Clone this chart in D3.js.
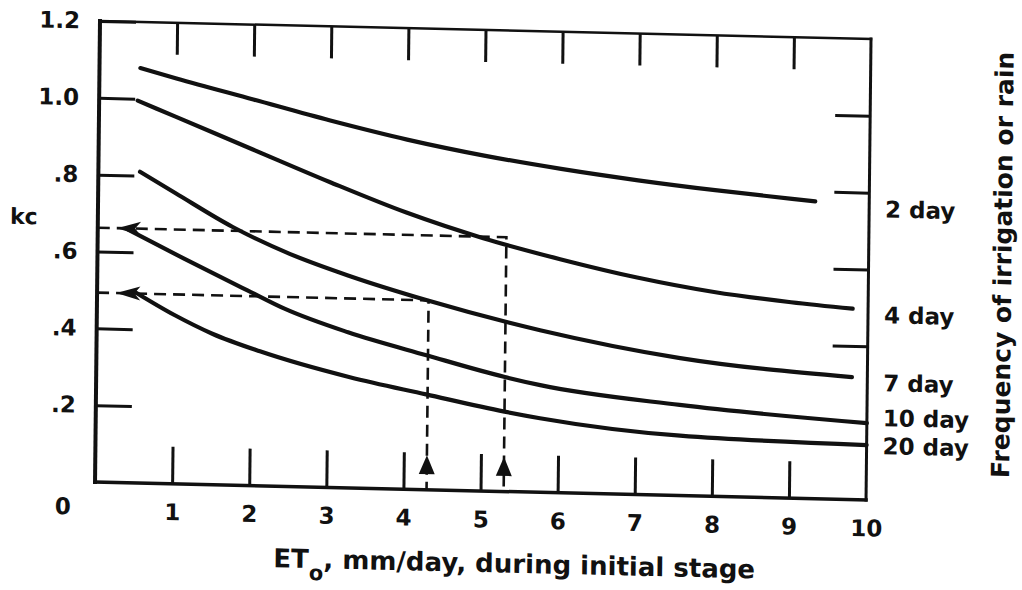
<!DOCTYPE html>
<html>
<head>
<meta charset="utf-8">
<script src="https://cdn.jsdelivr.net/npm/d3@7"></script>
<style>
  body { margin: 0; background: #fff; }
  text { font-family: "DejaVu Sans", sans-serif; font-weight: bold; fill: #111; }
  .tick text { font-size: 23px; }
</style>
</head>
<body>
<div id="chart"></div>
<script>
// values (ETo in mm/day, kc)
const etoTicks = [1, 2, 3, 4, 5, 6, 7, 8, 9];
const etoLabels = [1, 2, 3, 4, 5, 6, 7, 8, 9, 10];
const kcLeftTicks = [0.2, 0.4, 0.6, 0.8, 1.0, 1.2];
const kcLeftLabels = [".2", ".4", ".6", ".8", "1.0", "1.2"];
const kcRightTicks = [0.4, 0.6, 0.8, 1.0];

const seriesNames = ["2 day", "4 day", "7 day", "10 day", "20 day"];
const day2 = [[0.53, 1.08], [1, 1.055], [2, 1.005], [3, 0.955], [4, 0.91], [5, 0.873], [6, 0.843], [7, 0.818], [8, 0.797], [9, 0.779], [9.3, 0.774]];
const day4 = [[0.5, 0.995], [1, 0.955], [2, 0.875], [3, 0.795], [4, 0.72], [5, 0.658], [6, 0.608], [7, 0.565], [8, 0.532], [9, 0.51], [9.8, 0.497]];
const day7 = [[0.54, 0.81], [1, 0.757], [1.75, 0.672], [2.5, 0.605], [3.28, 0.551], [4.28, 0.493], [5.75, 0.422], [7.57, 0.358], [9.8, 0.319]];
const day10 = [[0.4, 0.658], [1.13, 0.586], [1.95, 0.508], [2.44, 0.462], [3.26, 0.405], [4.28, 0.35], [5.3, 0.298], [5.76, 0.279], [7.57, 0.236], [10, 0.2]];
const day20 = [[0.49, 0.497], [1, 0.44], [1.5, 0.393], [2.12, 0.35], [3.29, 0.288], [4.28, 0.248], [5.3, 0.208], [5.76, 0.193], [7.58, 0.156], [10, 0.143]];
const seriesData = [day2, day4, day7, day10, day20];

// worked example: ETo read up to a curve, then across to kc
const guideEto = [4.3, 5.3];
const guideKc = [0.493, 0.662];

// where the right-hand labels sit, in kc units
const labelKc = [0.757, 0.482, 0.305, 0.214, 0.141];

const width = 1022, height = 590;
const plotW = 771, plotH = 461;

const svg = d3.select("#chart")
  .append("svg")
    .attr("width", width)
    .attr("height", height)
    .style("background", "#fff");

// the scan is slightly rotated, so the whole figure sits in a skewed frame
const g = svg.append("g")
  .attr("transform", "matrix(1, 0.0233, -0.0108, 1, 100, 21)");

const x = d3.scaleLinear().domain([0, 10]).range([0, plotW]);
const y = d3.scaleLinear().domain([0, 1.2]).range([plotH, 0]);

// inner ticks
g.append("g")
  .attr("transform", `translate(0,${plotH})`)
  .call(d3.axisBottom(x).tickValues(etoLabels).tickSize(-37).tickPadding(20).tickFormat(d3.format("d")))
  .call(a => a.select(".domain").remove())
  .call(a => a.selectAll("line").attr("stroke", "#111").attr("stroke-width", 3)
    .filter(d => d === 10).remove());

g.append("g")
  .call(d3.axisTop(x).tickValues(etoTicks).tickSize(-32).tickFormat(""))
  .call(a => a.select(".domain").remove())
  .call(a => a.selectAll("line").attr("stroke", "#111").attr("stroke-width", 3));

g.append("g")
  .call(d3.axisLeft(y).tickValues(kcLeftTicks).tickSize(-36).tickPadding(20)
    .tickFormat((d, i) => kcLeftLabels[i]))
  .call(a => a.select(".domain").remove())
  .call(a => a.selectAll("line").attr("stroke", "#111").attr("stroke-width", 3));

g.append("g")
  .attr("transform", `translate(${plotW},0)`)
  .call(d3.axisRight(y).tickValues(kcRightTicks).tickSize(-35).tickFormat(""))
  .call(a => a.select(".domain").remove())
  .call(a => a.selectAll("line").attr("stroke", "#111").attr("stroke-width", 3));

// origin label
g.append("text")
  .attr("x", -32)
  .attr("y", plotH + 25)
  .attr("dy", "0.35em")
  .attr("text-anchor", "middle")
  .style("font-size", "23px")
  .text("0");

// frame
const frame = [
  {x1: 0, y1: 0, x2: 0, y2: plotH, w: 4},
  {x1: 0, y1: plotH, x2: plotW, y2: plotH, w: 3.5},
  {x1: plotW, y1: 0, x2: plotW, y2: plotH, w: 3},
  {x1: 0, y1: 0, x2: plotW, y2: 0, w: 2.5}
];
g.selectAll(".frame")
  .data(frame)
  .join("line")
    .attr("class", "frame")
    .attr("x1", d => d.x1).attr("y1", d => d.y1)
    .attr("x2", d => d.x2).attr("y2", d => d.y2)
    .attr("stroke", "#111")
    .attr("stroke-width", d => d.w)
    .attr("stroke-linecap", "square");

// dashed guide lines
g.selectAll(".guide")
  .data(guideEto)
  .join("path")
    .attr("class", "guide")
    .attr("d", (d, i) => `M${x(0)},${y(guideKc[i])}H${x(d)}V${y(0)}`)
    .attr("fill", "none")
    .attr("stroke", "#111")
    .attr("stroke-width", 2.6)
    .attr("stroke-dasharray", "12,7");

// arrowheads pointing at the kc axis
g.selectAll(".arrowL")
  .data(guideKc)
  .join("path")
    .attr("class", "arrowL")
    .attr("d", d => {
      const tx = x(0.25), ty = y(d);
      return `M${tx},${ty}L${tx + 24},${ty - 7}L${tx + 18},${ty}L${tx + 24},${ty + 7}Z`;
    })
    .attr("fill", "#111");

// arrowheads pointing up from the ETo axis
g.selectAll(".arrowU")
  .data(guideEto)
  .join("path")
    .attr("class", "arrowU")
    .attr("d", d => {
      const tx = x(d), ty = y(0.09);
      return `M${tx},${ty}L${tx - 8},${ty + 19}L${tx + 8},${ty + 19}Z`;
    })
    .attr("fill", "#111");

// curves
const line = d3.line()
  .x(d => x(d[0]))
  .y(d => y(d[1]))
  .curve(d3.curveMonotoneX);

g.selectAll(".curve")
  .data(seriesData)
  .join("path")
    .attr("class", "curve")
    .attr("d", line)
    .attr("fill", "none")
    .attr("stroke", "#111")
    .attr("stroke-width", 4.2)
    .attr("stroke-linecap", "round");

// right-hand labels
g.selectAll(".slabel")
  .data(seriesNames)
  .join("text")
    .attr("class", "slabel")
    .attr("x", plotW + 16)
    .attr("y", (d, i) => y(labelKc[i]))
    .attr("dy", "0.35em")
    .style("font-size", "23px")
    .text(d => d);

// axis titles
g.append("text")
  .attr("x", -74)
  .attr("y", y(0.687))
  .attr("dy", "0.35em")
  .attr("text-anchor", "middle")
  .style("font-size", "22px")
  .text("kc");

g.append("text")
  .attr("transform", `translate(${plotW + 134},${y(0.62)}) rotate(-90)`)
  .attr("dy", "0.35em")
  .attr("text-anchor", "middle")
  .style("font-size", "25px")
  .text("Frequency of irrigation or rain");

const xt = g.append("text")
  .attr("x", 420)
  .attr("y", 542)
  .attr("text-anchor", "middle")
  .style("font-size", "26px");
xt.append("tspan").text("ET");
xt.append("tspan").attr("dy", 12).style("font-size", "21px").text("o");
xt.append("tspan").attr("dy", -12).text(", mm/day, during initial stage");
</script>
</body>
</html>
